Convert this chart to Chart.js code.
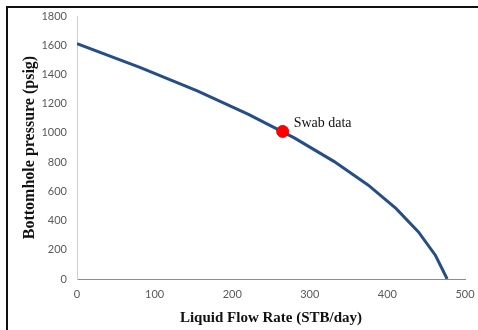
<!DOCTYPE html>
<html>
<head>
<meta charset="utf-8">
<script src="https://cdn.jsdelivr.net/npm/chart.js@4/dist/chart.umd.min.js"></script>
<style>
  html, body { margin: 0; padding: 0; background: #fff; }
  #wrap { width: 478px; height: 330px; position: relative; }
</style>
</head>
<body>
<div id="wrap"><canvas id="iprChart" width="478" height="330"></canvas></div>
<script>
// IPR curve
const flowRate = [0, 81, 155, 221, 280, 331, 375, 411, 440, 462, 477];
const pressure = [1610, 1449, 1288, 1127, 966, 805, 644, 483, 322, 161, 0];

// swab test point
const swabRate = [265];
const swabPressure = [1010];
const swabLabel = 'Swab data';

const xTicks = [0, 100, 200, 300, 400, 500];
const yTicks = [0, 200, 400, 600, 800, 1000, 1200, 1400, 1600, 1800];

const tickFont = { family: 'Lato, "Open Sans", sans-serif', size: 11 };
const serif = '"Liberation Serif", "Times New Roman", serif';

const framePlugin = {
    id: 'frame',
    beforeDraw(chart) {
        const ctx = chart.ctx;
        ctx.save();
        ctx.fillStyle = '#fff';
        ctx.fillRect(0, 0, chart.width, chart.height);
        ctx.strokeStyle = '#111';
        ctx.lineWidth = 2;
        ctx.beginPath();
        ctx.moveTo(7, chart.height);
        ctx.lineTo(7, 7);
        ctx.lineTo(chart.width, 7);
        ctx.stroke();
        ctx.restore();
    }
};

const swabLabelPlugin = {
    id: 'swabLabel',
    afterDatasetsDraw(chart) {
        const x = chart.scales.x.getPixelForValue(swabRate[0]);
        const y = chart.scales.y.getPixelForValue(swabPressure[0]);
        const ctx = chart.ctx;
        ctx.save();
        ctx.fillStyle = '#111';
        ctx.font = '14px ' + serif;
        ctx.textBaseline = 'middle';
        ctx.fillText(swabLabel, x + 11, y - 8);
        ctx.restore();
    }
};

const ctx = document.getElementById('iprChart').getContext('2d');
new Chart(ctx, {
    type: 'scatter',
    data: {
        datasets: [
            {
                data: flowRate.map((q, i) => ({ x: q, y: pressure[i] })),
                showLine: true,
                borderColor: '#254E87',
                borderWidth: 3,
                pointRadius: 0,
                tension: 0,
                order: 2
            },
            {
                data: swabRate.map((q, i) => ({ x: q, y: swabPressure[i] })),
                backgroundColor: '#FF0000',
                borderColor: '#FF0000',
                pointRadius: 6,
                order: 1
            }
        ]
    },
    options: {
        responsive: false,
        animation: false,
        layout: { padding: { top: 16, right: 13, left: 0, bottom: 0 } },
        plugins: {
            legend: { display: false },
            tooltip: { enabled: false }
        },
        scales: {
            x: {
                type: 'linear',
                min: 0,
                max: 500,
                afterBuildTicks: axis => { axis.ticks = xTicks.map(v => ({ value: v })); },
                afterFit: axis => { axis.height = 51; axis.paddingRight = 0; axis.paddingLeft = 0; },
                grid: { display: false, drawTicks: false },
                border: { color: '#8c8c8c', width: 1 },
                ticks: { color: '#595959', font: tickFont, padding: 9, callback: v => String(v) },
                title: { display: true, text: 'Liquid Flow Rate (STB/day)', color: '#111',
                         font: { family: serif, size: 15, weight: 'bold' }, padding: { top: 0, bottom: 3 } }
            },
            y: {
                type: 'linear',
                min: 0,
                max: 1800,
                afterBuildTicks: axis => { axis.ticks = yTicks.map(v => ({ value: v })); },
                afterFit: axis => { axis.width = 77; axis.paddingTop = 0; axis.paddingBottom = 0; },
                grid: { display: false, drawTicks: false },
                border: { color: '#d0d0d0', width: 1 },
                ticks: { color: '#595959', font: tickFont, padding: 10, callback: v => String(v) },
                title: { display: true, text: 'Bottomhole pressure (psig)', color: '#111',
                         font: { family: serif, size: 16, weight: 'bold' }, padding: { top: 20, bottom: 0 } }
            }
        }
    },
    plugins: [framePlugin, swabLabelPlugin]
});
</script>
</body>
</html>
